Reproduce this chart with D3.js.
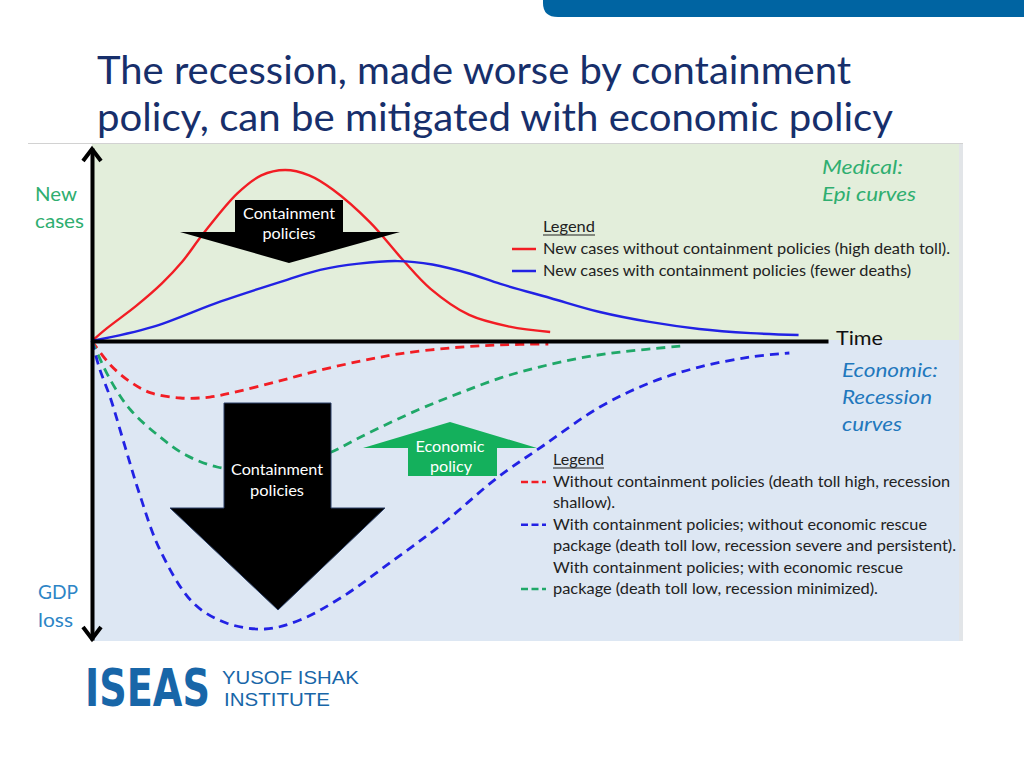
<!DOCTYPE html>
<html><head><meta charset="utf-8">
<script src="https://cdn.jsdelivr.net/npm/d3@7"></script>
<style>html,body{margin:0;padding:0;background:#fff;} svg{display:block;}</style>
</head><body>
<svg id="c" width="1024" height="768"></svg>
<script>
// ---------------- DATA ----------------
// time in arbitrary weeks (0..40), new cases (index 0..100, upward), GDP loss (index 0..100, downward)
const casesNoContainT = [0, 0.8, 2.4, 3.8, 4.9, 6.0, 7.9, 9.2, 10.5, 11.8, 13.1, 15.1, 16.9, 18.4, 20.5, 22.7, 24.9];
const casesNoContainV = [0, 7, 19.5, 32, 44, 59, 82, 92, 95, 92, 84, 66, 45, 29, 14.5, 8, 5];

const casesContainT = [0, 3.3, 7.0, 10.6, 12.4, 14.5, 16.6, 18.5, 20.5, 22.2, 24.9, 27.6, 30.3, 33.0, 35.8, 38.4];
const casesContainV = [0, 7.8, 22, 34, 39.5, 43, 44.4, 42.5, 37.5, 31.7, 23.9, 16.1, 10.6, 6.7, 4.4, 3.3];

const lossNoContainT = [0, 1.0, 2.1, 3.2, 4.8, 6.4, 8.0, 10.2, 12.4, 14.6, 16.7, 19.5, 22.2, 24.8];
const lossNoContainV = [0, 8, 13.7, 17.3, 19, 18.7, 16.7, 13.3, 9.7, 6.7, 4.3, 2.3, 1.3, 1];

const lossContainT = [0, 0.4, 1.0, 1.8, 2.6, 3.7, 5.5, 7.3, 9.4, 11.3, 13.6, 16.4, 19.1, 22.0, 24.5, 27.6, 30.3, 33.0, 35.8, 37.9];
const lossContainV = [0, 9, 19, 35.3, 51.3, 69.7, 87.3, 94, 96, 93, 85.3, 73, 60.7, 45.7, 35, 22, 14, 8.7, 5.3, 4];

const lossRescueT = [0, 1.0, 2.1, 3.7, 5.1, 6.8, 8.9, 11.0, 12.9, 14.6, 17.7, 20.0, 22.2, 24.3, 26.5, 28.7, 32.0];
const lossRescueV = [0, 13, 23, 32, 38, 42, 43, 41, 37.3, 32, 23, 17.3, 12.3, 8.7, 5.7, 3.7, 1.7];

const titleLines = ["The recession, made worse by containment", "policy, can be mitigated with economic policy"];
const upperLegendLabels = ["New cases without containment policies (high death toll).", "New cases with containment policies (fewer deaths)"];
const lowerLegendLines = [
  "Without containment policies (death toll high, recession",
  "shallow).",
  "With containment policies; without economic rescue",
  "package (death toll low, recession severe and persistent).",
  "With containment policies; with economic rescue",
  "package (death toll low, recession minimized)."
];

// ---------------- SETUP ----------------
const svg = d3.select("#c");
const FONT = "Lato, 'Open Sans', sans-serif";
const RED = "#f21d24", BLUE = "#2222e4", GREEN = "#1fa868";

const x = d3.scaleLinear().domain([0, 40]).range([92, 828]);
const yCases = d3.scaleLinear().domain([0, 100]).range([341, 161]);
const yLoss = d3.scaleLinear().domain([0, 100]).range([341, 641]);

function txt(g, s, px, py, o) {
  const t = g.append("text").attr("x", px).attr("y", py).text(s)
    .attr("font-family", o.family || FONT).attr("font-size", o.size).attr("fill", o.fill || "#222");
  if (o.weight) t.attr("font-weight", o.weight);
  if (o.style) t.attr("font-style", o.style);
  if (o.anchor) t.attr("text-anchor", o.anchor);
  if (o.width) t.attr("textLength", o.width).attr("lengthAdjust", "spacingAndGlyphs");
  return t;
}
// scale a text horizontally (real transform) so that its box really has the given width
function fitScale(g, s, px, py, o, w) {
  const t = g.append("text").attr("x", 0).attr("y", 0).text(s)
    .attr("font-family", o.family || FONT).attr("font-size", o.size).attr("fill", o.fill || "#222");
  if (o.weight) t.attr("font-weight", o.weight);
  const nat = t.node().getComputedTextLength();
  t.attr("transform", `translate(${px},${py}) scale(${w / nat},1)`);
  return t;
}

// top-right bar
svg.append("path").attr("d", "M543,0 H1024 V17 H558 Q543,17 543,3 Z").attr("fill", "#0064a2");

// title
titleLines.forEach((s, i) => txt(svg, s, 97, [84, 131][i], {size: 38, fill: "#172f6b", width: [754, 796][i]}));

// panels
const chart = svg.append("g");
chart.append("rect").attr("x", 92).attr("y", 144).attr("width", 868).attr("height", 196).attr("fill", "#e3eedb");
chart.append("rect").attr("x", 92).attr("y", 340).attr("width", 868).attr("height", 301).attr("fill", "#dde7f3");
chart.append("line").attr("x1", 28).attr("x2", 963).attr("y1", 143.5).attr("y2", 143.5).attr("stroke", "#d2d2d2").attr("stroke-width", 1);
chart.append("rect").attr("x", 959).attr("y", 144).attr("width", 4).attr("height", 497).attr("fill", "#e2e5e8");

// curves
const mk = (T, V) => T.map((t, i) => ({t, v: V[i]}));
const crv = d3.curveCatmullRom.alpha(0.5);
const lineC = d3.line().x(d => x(d.t)).y(d => yCases(d.v)).curve(crv);
const lineL = d3.line().x(d => x(d.t)).y(d => yLoss(d.v)).curve(crv);

const curves = chart.append("g").attr("fill", "none");
curves.append("path").attr("d", lineC(mk(casesNoContainT, casesNoContainV))).attr("stroke", RED).attr("stroke-width", 2.4);
curves.append("path").attr("d", lineC(mk(casesContainT, casesContainV))).attr("stroke", BLUE).attr("stroke-width", 2.4);
const dash = "9,6";
curves.append("path").attr("d", lineL(mk(lossNoContainT, lossNoContainV))).attr("stroke", RED).attr("stroke-width", 2.8).attr("stroke-dasharray", dash);
curves.append("path").attr("d", lineL(mk(lossRescueT, lossRescueV))).attr("stroke", GREEN).attr("stroke-width", 2.8).attr("stroke-dasharray", dash);
curves.append("path").attr("d", lineL(mk(lossContainT, lossContainV))).attr("stroke", BLUE).attr("stroke-width", 2.8).attr("stroke-dasharray", dash);

// annotation arrows
const ann = chart.append("g");
ann.append("path").attr("d", "M235,200 H343 V232 H400 L289,263 L180,232 H235 Z").attr("fill", "#000");
ann.append("path").attr("d", "M224,403 H331 V508 H385 L278,610 L170,508 H224 Z").attr("fill", "#000").attr("stroke", "#2a3f66").attr("stroke-width", 1);
ann.append("path").attr("d", "M450,422 L537,448 H497 V476 H408 V448 H363 Z").attr("fill", "#14b05c");
txt(ann, "Containment", 289, 219, {size: 15, fill: "#fff", anchor: "middle", width: 92});
txt(ann, "policies", 289, 239, {size: 15, fill: "#fff", anchor: "middle", width: 53});
txt(ann, "Containment", 277, 475, {size: 15, fill: "#fff", anchor: "middle", width: 92});
txt(ann, "policies", 277, 496, {size: 15, fill: "#fff", anchor: "middle", width: 54});
txt(ann, "Economic", 450, 452, {size: 15, fill: "#fff", anchor: "middle", width: 69});
txt(ann, "policy", 451, 472, {size: 15, fill: "#fff", anchor: "middle", width: 42});

// axes
const gx = chart.append("g").attr("transform", "translate(0,341)")
  .call(d3.axisBottom(x).tickValues([]).tickSizeOuter(0));
gx.select(".domain").attr("stroke", "#000").attr("stroke-width", 4);
const yAxisScale = d3.scaleLinear().domain([0, 1]).range([148, 640]);
const gy = chart.append("g").attr("transform", "translate(92,0)")
  .call(d3.axisLeft(yAxisScale).tickValues([]).tickSizeOuter(0));
gy.select(".domain").attr("stroke", "#000").attr("stroke-width", 4);
chart.append("path").attr("d", "M83,161 L92,149 L101,161").attr("fill", "none").attr("stroke", "#000").attr("stroke-width", 4);
chart.append("path").attr("d", "M83,627 L92,639 L101,627").attr("fill", "none").attr("stroke", "#000").attr("stroke-width", 4);

// axis labels
txt(chart, "Time", 836, 345, {size: 20, fill: "#111", width: 47});
txt(chart, "New", 35, 201, {size: 20, fill: "#2fae70", width: 42});
txt(chart, "cases", 35, 228, {size: 20, fill: "#2fae70", width: 49});
txt(chart, "GDP", 38, 599, {size: 20, fill: "#2d85c6", width: 40});
txt(chart, "loss", 38, 627, {size: 20, fill: "#2d85c6", width: 35});
txt(chart, "Medical:", 822, 174, {size: 20, fill: "#2fae70", style: "italic", width: 81});
txt(chart, "Epi curves", 822, 201, {size: 20, fill: "#2fae70", style: "italic", width: 94});
txt(chart, "Economic:", 842, 377, {size: 20, fill: "#1f78bd", style: "italic", width: 96});
txt(chart, "Recession", 842, 404, {size: 20, fill: "#1f78bd", style: "italic", width: 90});
txt(chart, "curves", 842, 431, {size: 20, fill: "#1f78bd", style: "italic", width: 60});

// upper legend
const ul = chart.append("g");
txt(ul, "Legend", 543, 232, {size: 15, width: 52});
ul.append("line").attr("x1", 543).attr("x2", 595).attr("y1", 235).attr("y2", 235).attr("stroke", "#222").attr("stroke-width", 1.2);
[RED, BLUE].forEach((c, i) => {
  const cy = 249 + i * 22;
  ul.append("line").attr("x1", 512).attr("x2", 536).attr("y1", cy).attr("y2", cy).attr("stroke", c).attr("stroke-width", 2.5);
  txt(ul, upperLegendLabels[i], 543, cy + 5, {size: 15, width: [407, 368][i]});
});

// lower legend
const ll = chart.append("g");
txt(ll, "Legend", 553, 465, {size: 15, width: 51});
ll.append("line").attr("x1", 553).attr("x2", 604).attr("y1", 468).attr("y2", 468).attr("stroke", "#222").attr("stroke-width", 1.2);
const llWidths = [397, 62, 374, 403, 350, 325];
lowerLegendLines.forEach((s, i) => txt(ll, s, 553, 487 + i * 21.4, {size: 15, width: llWidths[i]}));
[[RED, 0], [BLUE, 2], [GREEN, 5]].forEach(([c, row]) => {
  const cy = 482 + row * 21.4;
  ll.append("line").attr("x1", 521).attr("x2", 546).attr("y1", cy).attr("y2", cy).attr("stroke", c).attr("stroke-width", 2.6).attr("stroke-dasharray", "7,3.5");
});

// logo
const logo = svg.append("g");
fitScale(logo, "ISEAS", 85, 706, {size: 52, fill: "#1866a8", weight: 900, family: "'DejaVu Sans', sans-serif"}, 125);
fitScale(logo, "YUSOF ISHAK", 222, 684, {size: 19, fill: "#1866a8", family: "'Liberation Sans', Arial, sans-serif"}, 137);
fitScale(logo, "INSTITUTE", 224, 706, {size: 19, fill: "#1866a8", family: "'Liberation Sans', Arial, sans-serif"}, 106);
</script>
</body></html>
